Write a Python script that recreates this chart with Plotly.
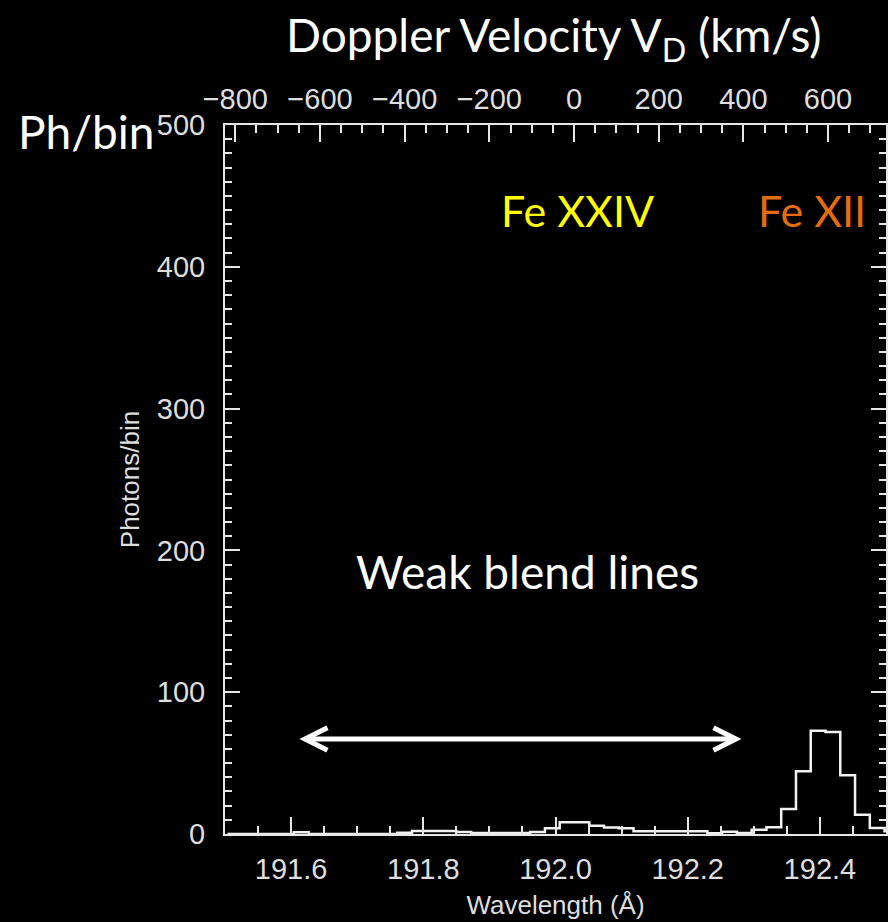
import plotly.graph_objects as go

# ---- data ----
C_KMS = 299792.458          # speed of light, km/s
FE24_REST = 192.028         # Fe XXIV rest wavelength (Å), zero of the velocity axis

WAVELENGTH = [  # bin centres (Å)
    191.50371, 191.52605, 191.54839, 191.57073, 191.59307, 191.61541, 191.63775,
    191.66009, 191.68243, 191.70477, 191.72711, 191.74945, 191.77179, 191.79413,
    191.81647, 191.83881, 191.86115, 191.88349, 191.90583, 191.92817, 191.95051,
    191.97285, 191.99519, 192.01753, 192.03987, 192.06221, 192.08455, 192.10689,
    192.12923, 192.15157, 192.17391, 192.19625, 192.21859, 192.24093, 192.26327,
    192.28561, 192.30795, 192.33029, 192.35263, 192.37497, 192.39731, 192.41965,
    192.44199, 192.46433, 192.48667, 192.50901,
]
COUNTS = [  # photons / bin
    0, 0, 0, 0, 0, 1.2, 0,
    0, 0, 0, 0, 0, 0.8, 2.1,
    2.1, 2.1, 1.4, 0.7, 0.7, 0.7, 0.7,
    1.4, 4.0, 8.3, 8.3, 5.8, 4.5, 4.0,
    1.9, 1.9, 1.9, 1.9, 1.9, 0.5, 1.5,
    0.7, 3.0, 4.7, 17.6, 44.2, 72.9, 72.0,
    41.4, 13.6, 4.2, 2.0,
]

X_RANGE = [191.5, 192.5]
Y_RANGE = [0, 500]
V_RANGE = [(w - FE24_REST) / FE24_REST * C_KMS for w in X_RANGE]
V_TICKS = [-800, -600, -400, -200, 0, 200, 400, 600]
V_TICKTEXT = ["\u2212800", "\u2212600", "\u2212400", "\u2212200", "0", "200", "400", "600"]

# annotation anchors (data units)
LABEL_Y = 440
FE24_LABEL_X = 192.033
FE12_LABEL_X = 192.388
BLEND_LABEL = (191.957, 185)
ARROW_LEFT, ARROW_RIGHT, ARROW_Y = 191.621, 192.273, 67
HEAD_LEN, HEAD_HALF = 0.034, 8.0

FG = "#e6e6e6"
TICKFONT = dict(family="Liberation Sans", size=29, color="#dedede")
TITLEFONT = dict(family="Liberation Sans", size=26, color="#dedede")
BIGFONT = "Lato"

fig = go.Figure()
fig.add_trace(go.Scatter(
    x=WAVELENGTH, y=COUNTS, mode="lines", line=dict(color="#f2f2f2", width=2.5, shape="hvh"),
    hoverinfo="skip", showlegend=False, cliponaxis=True,
))
# invisible trace so that the velocity axis is drawn
fig.add_trace(go.Scatter(
    x=V_RANGE, y=[0, 0], xaxis="x2", yaxis="y", mode="markers",
    marker=dict(opacity=0), hoverinfo="skip", showlegend=False,
))

axis_common = dict(showgrid=False, zeroline=False, showline=True, linecolor=FG, linewidth=2,
                   ticks="inside", tickcolor=FG, tickwidth=2, tickfont=TICKFONT)

fig.update_layout(
    width=888, height=922, autosize=False,
    paper_bgcolor="black", plot_bgcolor="black",
    margin=dict(l=225, r=0, t=125, b=88),
    xaxis=dict(
        range=X_RANGE, tickmode="linear", tick0=191.6, dtick=0.2, tickformat=".1f",
        ticklen=17, mirror=False, ticklabelstandoff=8,
        minor=dict(tick0=191.5, dtick=0.05, ticks="inside", ticklen=8, tickcolor=FG, tickwidth=2),
        title=dict(text="Wavelength (Å)", font=TITLEFONT, standoff=12),
        **axis_common,
    ),
    xaxis2=dict(
        range=V_RANGE, overlaying="x", side="top", anchor="y",
        tickmode="array", tickvals=V_TICKS, ticktext=V_TICKTEXT,
        ticklen=17, ticklabelstandoff=2,
        minor=dict(tick0=0, dtick=50, ticks="inside", ticklen=8, tickcolor=FG, tickwidth=2),
        **axis_common,
    ),
    yaxis=dict(
        range=Y_RANGE, tickmode="linear", tick0=0, dtick=100,
        ticklen=15, mirror="ticks", ticklabelstandoff=12,
        minor=dict(tick0=0, dtick=10, ticks="inside", ticklen=7, tickcolor=FG, tickwidth=2),
        title=dict(text="Photons/bin", font=TITLEFONT, standoff=10),
        **axis_common,
    ),
)

annotations = [
    dict(text="Doppler Velocity V<sub>D</sub> (km/s)", xref="paper", yref="paper",
         x=(555 - 225) / 663, y=1 + (125 - 38) / 709, xanchor="center", yanchor="middle",
         showarrow=False, font=dict(family=BIGFONT, size=46, color="white")),
    dict(text="Ph/bin", xref="paper", yref="paper",
         x=(86 - 225) / 663, y=1 - (131 - 125) / 709, xanchor="center", yanchor="middle",
         showarrow=False, font=dict(family=BIGFONT, size=46, color="white")),
    dict(text="Fe XXIV", x=FE24_LABEL_X, y=LABEL_Y, xref="x", yref="y", xanchor="center",
         yanchor="middle", showarrow=False, font=dict(family=BIGFONT, size=43, color="#ffff00")),
    dict(text="Fe XII", x=FE12_LABEL_X, y=LABEL_Y, xref="x", yref="y", xanchor="center",
         yanchor="middle", showarrow=False, font=dict(family=BIGFONT, size=43, color="#e46c0a")),
    dict(text="Weak blend lines", x=BLEND_LABEL[0], y=BLEND_LABEL[1], xref="x", yref="y",
         xanchor="center", yanchor="middle", showarrow=False,
         font=dict(family=BIGFONT, size=46, color="white")),
]
fig.update_layout(annotations=annotations)

arrow_style = dict(color="white", width=5)
fig.add_shape(type="line", xref="x", yref="y", x0=ARROW_LEFT, x1=ARROW_RIGHT,
              y0=ARROW_Y, y1=ARROW_Y, line=arrow_style)
fig.add_shape(type="path", xref="x", yref="y", line=arrow_style,
              path=f"M {ARROW_LEFT + HEAD_LEN},{ARROW_Y + HEAD_HALF} L {ARROW_LEFT},{ARROW_Y} "
                   f"L {ARROW_LEFT + HEAD_LEN},{ARROW_Y - HEAD_HALF}")
fig.add_shape(type="path", xref="x", yref="y", line=arrow_style,
              path=f"M {ARROW_RIGHT - HEAD_LEN},{ARROW_Y + HEAD_HALF} L {ARROW_RIGHT},{ARROW_Y} "
                   f"L {ARROW_RIGHT - HEAD_LEN},{ARROW_Y - HEAD_HALF}")

fig.write_html(
    "out.html",
    config={"displayModeBar": False},
    post_script="document.body.style.margin='0px';document.body.style.overflow='hidden';",
)
